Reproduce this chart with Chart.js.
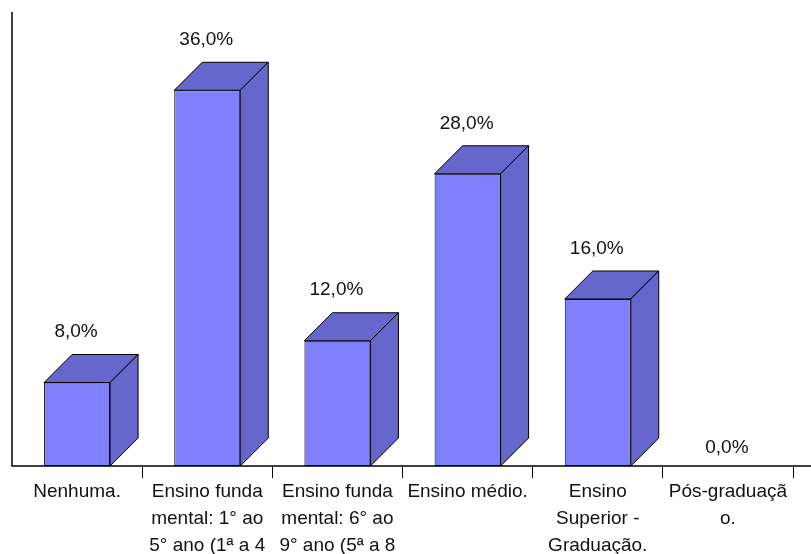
<!DOCTYPE html>
<html>
<head>
<meta charset="utf-8">
<script src="https://cdn.jsdelivr.net/npm/chart.js@4/dist/chart.umd.min.js"></script>
<style>
	html, body { margin: 0; padding: 0; background: #fff; }
	#wrap { width: 811px; height: 554px; }
</style>
</head>
<body>
<div id="wrap"><canvas id="myChart" width="811" height="554"></canvas></div>
<script>
const categories = [
	["Nenhuma."],
	["Ensino funda", "mental: 1° ao", "5° ano (1ª a 4"],
	["Ensino funda", "mental: 6° ao", "9° ano (5ª a 8"],
	["Ensino médio."],
	["Ensino", "Superior -", "Graduação."],
	["Pós-graduaçã", "o."],
];
const values = [8, 36, 12, 28, 16, 0];
const valueLabels = ["8,0%", "36,0%", "12,0%", "28,0%", "16,0%", "0,0%"];

const depth = 28;

// draws the top and side faces, the value labels and the axis lines
const bars3d = {
	id: "bars3d",
	afterDatasetsDraw(chart) {
		const ctx = chart.ctx;
		const meta = chart.getDatasetMeta(0);
		const area = chart.chartArea;
		ctx.save();
		ctx.lineWidth = 1;
		ctx.strokeStyle = "#000";
		meta.data.forEach((bar, i) => {
			const p = bar.getProps(["x", "y", "base", "width"], true);
			const left = p.x - p.width / 2;
			const right = p.x + p.width / 2;
			if (values[i] > 0) {
				ctx.fillStyle = "#6666cc";
				ctx.beginPath();
				ctx.moveTo(left, p.y);
				ctx.lineTo(left + depth, p.y - depth);
				ctx.lineTo(right + depth, p.y - depth);
				ctx.lineTo(right, p.y);
				ctx.closePath();
				ctx.fill();
				ctx.stroke();
				ctx.beginPath();
				ctx.moveTo(right, p.y);
				ctx.lineTo(right + depth, p.y - depth);
				ctx.lineTo(right + depth, p.base - depth);
				ctx.lineTo(right, p.base);
				ctx.closePath();
				ctx.fill();
				ctx.stroke();
			}
			ctx.fillStyle = "#111";
			ctx.font = "19px 'Liberation Sans', Arial, sans-serif";
			ctx.textAlign = "center";
			ctx.textBaseline = "bottom";
			const ly = values[i] > 0 ? p.y - depth - 13 : p.base - 9;
			ctx.fillText(valueLabels[i], p.x - 1, ly);
		});
		ctx.strokeStyle = "#000";
		ctx.lineWidth = 1.5;
		ctx.beginPath();
		ctx.moveTo(12, area.top);
		ctx.lineTo(12, area.bottom);
		ctx.lineTo(811, area.bottom);
		ctx.stroke();
		ctx.restore();
	},
};

const ctx = document.getElementById("myChart").getContext("2d");
const myChart = new Chart(ctx, {
	type: "bar",
	data: {
		labels: categories,
		datasets: [
			{
				data: values,
				backgroundColor: "#8080ff",
				borderColor: "#000",
				borderWidth: (c) => (values[c.dataIndex] > 0 ? 1 : 0),
				borderSkipped: false,
				barPercentage: 0.507,
				categoryPercentage: 1,
			},
		],
	},
	options: {
		responsive: false,
		animation: false,
		layout: { padding: { left: 12, right: 18, top: 12, bottom: 0 } },
		plugins: { legend: { display: false }, tooltip: { enabled: false } },
		scales: {
			y: { display: false, min: 0, max: 43.5 },
			x: {
				border: { display: false },
				grid: {
					offset: true,
					drawOnChartArea: false,
					drawTicks: true,
					tickLength: 12,
					color: (c) => (c.index === 0 ? "rgba(0,0,0,0)" : "#000"),
				},
				ticks: {
					autoSkip: false,
					maxRotation: 0,
					padding: 0,
					color: "#111",
					font: { family: "'Liberation Sans', Arial, sans-serif", size: 19, lineHeight: 1.42 },
				},
				afterFit(scale) {
					scale.height = 88;
				},
			},
		},
	},
	plugins: [bars3d],
});
</script>
</body>
</html>
